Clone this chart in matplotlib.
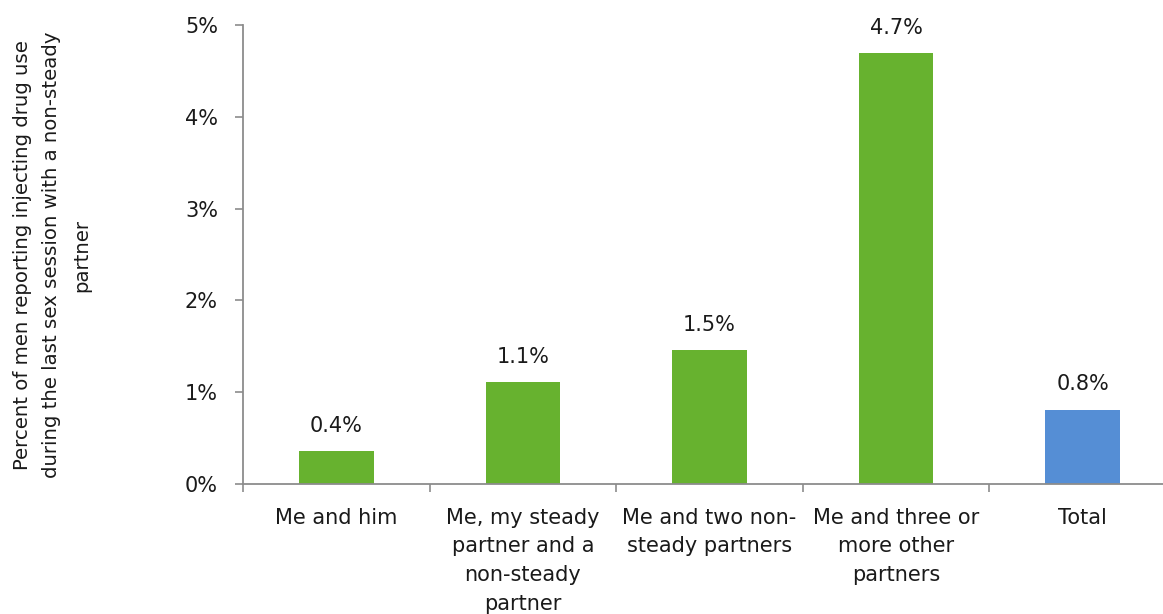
import matplotlib.pyplot as plt
from matplotlib.ticker import FuncFormatter, FixedLocator

categories = [
    "Me and him",
    "Me, my steady\npartner and a\nnon-steady\npartner",
    "Me and two non-\nsteady partners",
    "Me and three or\nmore other\npartners",
    "Total",
]
percent = [0.36, 1.11, 1.46, 4.69, 0.81]
colors = ["#67B22F", "#67B22F", "#67B22F", "#67B22F", "#558ED5"]

ylabel = "Percent of men reporting injecting drug use\nduring the last sex session with a non-steady\npartner"

plt.rcParams["font.family"] = "DejaVu Sans"
plt.rcParams["font.size"] = 15

fig = plt.figure(figsize=(11.63, 6.14), dpi=100)
ax = fig.add_axes([243 / 1163, 130 / 614, 933 / 1163, 459 / 614])

x = range(len(categories))
bars = ax.bar(x, percent, width=0.40, color=colors, zorder=2)

for b, v in zip(bars, percent):
    ax.annotate(f"{v:.1f}%", (b.get_x() + b.get_width() / 2, v),
                xytext=(0, 11), textcoords="offset points",
                ha="center", va="bottom", fontsize=15, color="#1a1a1a")

ax.set_xlim(-0.5, len(categories) - 0.5)
ax.set_ylim(0, 5)
ax.set_yticks([0, 1, 2, 3, 4, 5])
ax.yaxis.set_major_formatter(FuncFormatter(lambda v, p: f"{v:.0f}%"))

# category labels sit in the middle, tick marks between categories
ax.set_xticks(list(x))
ax.set_xticklabels(categories, linespacing=1.55)
ax.xaxis.set_minor_locator(FixedLocator([i - 0.5 for i in range(len(categories) + 1)]))
ax.tick_params(axis="x", which="major", length=0, pad=17, colors="#1a1a1a")
ax.tick_params(axis="x", which="minor", length=6, width=1.2, color="#8c8c8c", direction="out")
ax.tick_params(axis="y", length=6, width=1.2, color="#8c8c8c", pad=12, labelcolor="#1a1a1a")

for side in ["top", "right"]:
    ax.spines[side].set_visible(False)
for side in ["left", "bottom"]:
    ax.spines[side].set_color("#8c8c8c")
    ax.spines[side].set_linewidth(1.3)

fig.text(52 / 1163, 1 - 255 / 614, ylabel, rotation=90, ha="center", va="center",
         multialignment="center", linespacing=1.7, fontsize=14.2, color="#1a1a1a")

fig.savefig("out.png", dpi=100)
